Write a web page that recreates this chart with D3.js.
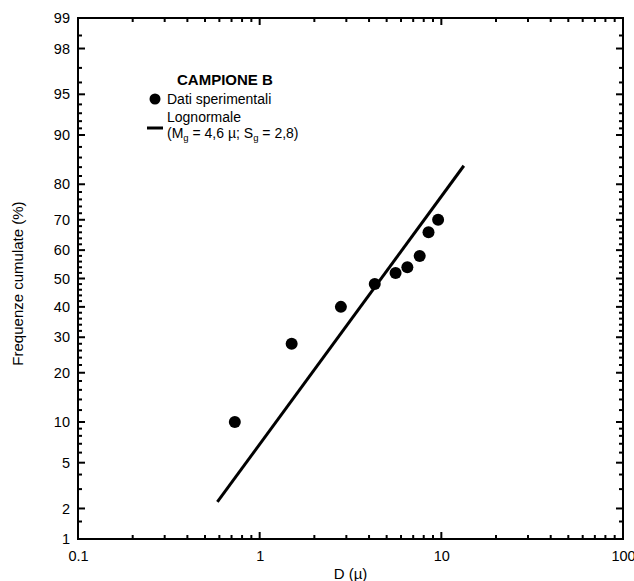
<!DOCTYPE html>
<html>
<head>
<meta charset="utf-8">
<script src="https://cdn.jsdelivr.net/npm/d3@7"></script>
<style>
  html, body { margin: 0; padding: 0; background: #fff; }
  svg { display: block; font-family: "Liberation Sans", Arial, Helvetica, sans-serif; }
</style>
</head>
<body>
<svg id="chart" width="634" height="581"></svg>
<script>
// Measured particle sizes D (µ) and cumulative frequencies (%)
const diameters = [0.73, 1.5, 2.8, 4.3, 5.6, 6.5, 7.6, 8.5, 9.6];
const cumulative = [10, 28, 40, 48, 52, 54, 58, 66, 70];

// Lognormal fit segment (Mg = 4,6 µ; Sg = 2,8), endpoints
const fitD = [0.585, 13.3];
const fitP = [2.3, 84.3];

// Axis ticks
const xMajor = [0.1, 1, 10, 100];
const xMajorLabels = ["0.1", "1", "10", "100"];
const xMinor = [0.2, 0.3, 0.4, 0.5, 0.6, 0.7, 0.8, 0.9,
                2, 3, 4, 5, 6, 7, 8, 9,
                20, 30, 40, 50, 60, 70, 80, 90];
const yMajor = [1, 2, 5, 10, 20, 30, 40, 50, 60, 70, 80, 90, 95, 98, 99];
const yMajorLabels = ["1", "2", "5", "10", "20", "30", "40", "50", "60", "70", "80", "90", "95", "98", "99"];
const yMinor = [1.5, 3, 4, 6, 7, 8, 9, 12, 14, 16, 18, 22, 24, 26, 28,
                32, 34, 36, 38, 42, 44, 46, 48, 52, 54, 56, 58, 62, 64, 66, 68,
                72, 74, 76, 78, 82, 84, 86, 88, 91, 92, 93, 94, 96, 97, 98.5];

// Inverse standard normal CDF (Acklam)
function probit(p) {
  const a = [-3.969683028665376e+01, 2.209460984245205e+02, -2.759285104469687e+02,
             1.383577518672690e+02, -3.066479806614716e+01, 2.506628277459239e+00];
  const b = [-5.447609879822406e+01, 1.615858368580409e+02, -1.556989798598866e+02,
             6.680131188771972e+01, -1.328068155288572e+01];
  const c = [-7.784894002430293e-03, -3.223964580411365e-01, -2.400758277161838e+00,
             -2.549671667244975e+00, 4.374664141464968e+00, 2.938163982698783e+00];
  const d = [7.784695709041462e-03, 3.224671290700398e-01, 2.445134137142996e+00,
             3.754408661907416e+00];
  const pl = 0.02425, ph = 1 - pl;
  let q, r;
  if (p < pl) {
    q = Math.sqrt(-2 * Math.log(p));
    return (((((c[0]*q+c[1])*q+c[2])*q+c[3])*q+c[4])*q+c[5]) /
           ((((d[0]*q+d[1])*q+d[2])*q+d[3])*q+1);
  } else if (p <= ph) {
    q = p - 0.5; r = q * q;
    return (((((a[0]*r+a[1])*r+a[2])*r+a[3])*r+a[4])*r+a[5])*q /
           (((((b[0]*r+b[1])*r+b[2])*r+b[3])*r+b[4])*r+1);
  } else {
    q = Math.sqrt(-2 * Math.log(1 - p));
    return -(((((c[0]*q+c[1])*q+c[2])*q+c[3])*q+c[4])*q+c[5]) /
            ((((d[0]*q+d[1])*q+d[2])*q+d[3])*q+1);
  }
}
const z = pct => probit(pct / 100);

const plotL = 78, plotR = 623, plotT = 18, plotB = 539;
const svg = d3.select("#chart");

const x = d3.scaleLog().domain([0.1, 100]).range([plotL, plotR]);
const yz = d3.scaleLinear().domain([z(1), z(99)]).range([plotB, plotT]);
const y = pct => yz(z(pct));

const fontSize = 14.5;
const MAJ = 7, MIN = 4;

// Tick labels from d3 axes (tick lines drawn separately below)
function labelAxis(g) {
  g.select(".domain").remove();
  g.selectAll(".tick line").remove();
  g.selectAll(".tick text").attr("fill", "#000").style("font-size", fontSize + "px")
    .style("font-family", "'Liberation Sans', Arial, sans-serif");
}
svg.append("g").attr("transform", `translate(0,${plotB})`)
  .call(d3.axisBottom(x).tickValues(xMajor).tickSize(0).tickPadding(12)
        .tickFormat((d, i) => xMajorLabels[i]))
  .call(labelAxis);
svg.append("g").attr("transform", `translate(${plotL},0)`)
  .call(d3.axisLeft(yz).tickValues(yMajor.map(z)).tickSize(0).tickPadding(8)
        .tickFormat((d, i) => yMajorLabels[i]))
  .call(labelAxis);

// Inward tick marks on all four sides
const ticks = svg.append("g").attr("stroke", "#000").attr("stroke-width", 2);
const xTicks = xMajor.map(v => ({ v, len: MAJ })).concat(xMinor.map(v => ({ v, len: MIN })));
const yTicks = yMajor.map(v => ({ v, len: MAJ })).concat(yMinor.map(v => ({ v, len: MIN })));
ticks.selectAll(".xb").data(xTicks).join("line").attr("class", "xb")
  .attr("x1", t => x(t.v)).attr("x2", t => x(t.v))
  .attr("y1", plotB).attr("y2", t => plotB - t.len);
ticks.selectAll(".xt").data(xTicks).join("line").attr("class", "xt")
  .attr("x1", t => x(t.v)).attr("x2", t => x(t.v))
  .attr("y1", plotT).attr("y2", t => plotT + t.len);
ticks.selectAll(".yl").data(yTicks).join("line").attr("class", "yl")
  .attr("y1", t => y(t.v)).attr("y2", t => y(t.v))
  .attr("x1", plotL).attr("x2", t => plotL + t.len);
ticks.selectAll(".yr").data(yTicks).join("line").attr("class", "yr")
  .attr("y1", t => y(t.v)).attr("y2", t => y(t.v))
  .attr("x1", plotR).attr("x2", t => plotR - t.len);

// Frame
svg.append("rect")
  .attr("x", plotL).attr("y", plotT)
  .attr("width", plotR - plotL).attr("height", plotB - plotT)
  .attr("fill", "none").attr("stroke", "#000").attr("stroke-width", 2);

// Axis titles
svg.append("text")
  .attr("x", (plotL + plotR) / 2).attr("y", 579)
  .attr("text-anchor", "middle").style("font-size", "15px")
  .text("D (µ)");
svg.append("text")
  .attr("transform", `translate(23,${(plotT + plotB) / 2 + 5}) rotate(-90)`)
  .attr("text-anchor", "middle").style("font-size", "15px")
  .text("Frequenze cumulate (%)");

// Lognormal fit line
const fitPts = fitD.map((d, i) => [x(d), y(fitP[i])]);
svg.append("path")
  .attr("d", d3.line()(fitPts))
  .attr("stroke", "#000").attr("stroke-width", 3).attr("fill", "none");

// Experimental points
svg.append("g").selectAll("circle")
  .data(diameters.map((d, i) => ({ d, p: cumulative[i] })))
  .join("circle")
  .attr("cx", v => x(v.d)).attr("cy", v => y(v.p))
  .attr("r", 6).attr("fill", "#000");

// Legend
const lg = svg.append("g");
lg.append("text").attr("x", 177).attr("y", 85)
  .style("font-size", "15px").style("font-weight", "bold").text("CAMPIONE B");
lg.append("circle").attr("cx", 155).attr("cy", 99).attr("r", 5.5).attr("fill", "#000");
lg.append("text").attr("x", 167).attr("y", 104)
  .style("font-size", "14px").text("Dati sperimentali");
lg.append("line").attr("x1", 147).attr("x2", 163).attr("y1", 128).attr("y2", 128)
  .attr("stroke", "#000").attr("stroke-width", 3);
lg.append("text").attr("x", 167).attr("y", 122)
  .style("font-size", "14px").text("Lognormale");
const t2 = lg.append("text").attr("x", 167).attr("y", 138).style("font-size", "14px");
t2.append("tspan").text("(M");
t2.append("tspan").attr("dy", 3).style("font-size", "9.5px").text("g");
t2.append("tspan").attr("dy", -3).text(" = 4,6 µ; S");
t2.append("tspan").attr("dy", 3).style("font-size", "9.5px").text("g");
t2.append("tspan").attr("dy", -3).text(" = 2,8)");
</script>
</body>
</html>
